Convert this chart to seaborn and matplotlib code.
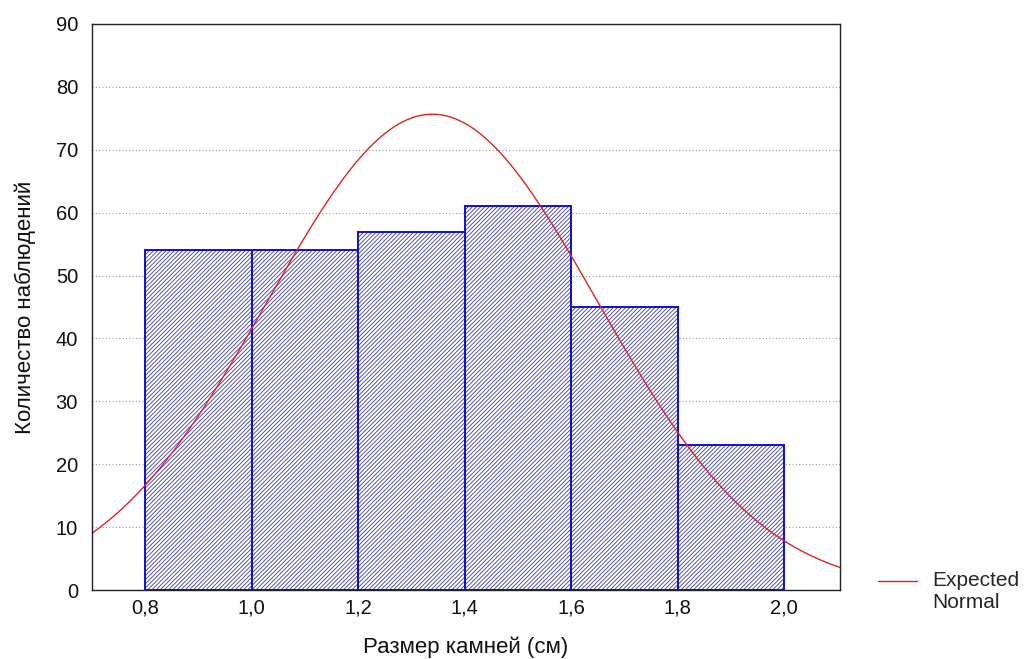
import numpy as np
import pandas as pd
import matplotlib
matplotlib.use("Agg")
import matplotlib.pyplot as plt
import seaborn as sns

# Data
bin_edges = [0.8, 1.0, 1.2, 1.4, 1.6, 1.8, 2.0]
counts = [54, 54, 57, 61, 45, 23]
x_ticks = [0.8, 1.0, 1.2, 1.4, 1.6, 1.8, 2.0]
x_tick_labels = ["0,8", "1,0", "1,2", "1,4", "1,6", "1,8", "2,0"]
y_ticks = [0, 10, 20, 30, 40, 50, 60, 70, 80, 90]
x_label = "Размер камней (см)"
y_label = "Количество наблюдений"
legend_label = "Expected\nNormal"

sns.set_style("white")
plt.rcParams['font.family'] = ['Liberation Sans', 'DejaVu Sans']
plt.rcParams['hatch.linewidth'] = 0.6

edges = np.array(bin_edges)
centers = (edges[:-1] + edges[1:]) / 2
cnt = np.array(counts, dtype=float)
df = pd.DataFrame({"size": centers, "n": cnt})

fig = plt.figure(figsize=(10.24, 6.59), dpi=100)
ax = fig.add_axes([0.0898, 0.1047, 0.7305, 0.8589])

# Hatched fill
sns.histplot(data=df, x="size", weights="n", bins=list(bin_edges), ax=ax,
             stat="count", element="bars", fill=True,
             color="white", linewidth=0, alpha=1)
for p in ax.patches:
    p.set_hatch("////////")
    p.set_facecolor("white")
    p.set_edgecolor("#3c3ca6")
    p.set_linewidth(0)
# Outline
sns.histplot(data=df, x="size", weights="n", bins=list(bin_edges), ax=ax,
             stat="count", element="bars", fill=False,
             color="#1010d0", linewidth=1.4)

# Expected normal curve from binned data
N = cnt.sum()
bw = edges[1] - edges[0]
mu = (centers * cnt).sum() / N
sd = np.sqrt(((centers - mu) ** 2 * cnt).sum() / N)
xs = np.linspace(0.7, 2.11, 300)
ys = N * bw / (sd * np.sqrt(2 * np.pi)) * np.exp(-0.5 * ((xs - mu) / sd) ** 2)
sns.lineplot(x=xs, y=ys, ax=ax, color="#dc2424", linewidth=1.0,
             label=legend_label)

ax.set_xlim(0.7, 2.105)
ax.set_ylim(0, 90)
ax.set_xticks(x_ticks)
ax.set_xticklabels(x_tick_labels)
ax.set_yticks(y_ticks)
ax.tick_params(axis="both", length=0, labelsize=14.5, colors="#111111")
ax.tick_params(axis="x", pad=6)
ax.tick_params(axis="y", pad=10)
ax.yaxis.grid(True, linestyle=(0, (1, 2)), color="#999999", linewidth=0.8)
ax.xaxis.grid(False)
ax.set_axisbelow(True)
for s in ax.spines.values():
    s.set_visible(True)
    s.set_color("#222222")
    s.set_linewidth(1.0)

ax.set_xlabel(x_label, fontsize=16, labelpad=14, color="#111111")
ax.set_ylabel(y_label, fontsize=16, labelpad=14, color="#111111")

leg = ax.legend(loc="center left", bbox_to_anchor=(0.857, 0.1017),
                bbox_transform=fig.transFigure, frameon=False, fontsize=15,
                handlelength=1.9, handletextpad=0.72, borderpad=0,
                borderaxespad=0)
for ln in leg.get_lines():
    yd = ln.get_ydata()
    ln.set_ydata([v + 8 for v in yd])

fig.savefig("out.png", dpi=100)
